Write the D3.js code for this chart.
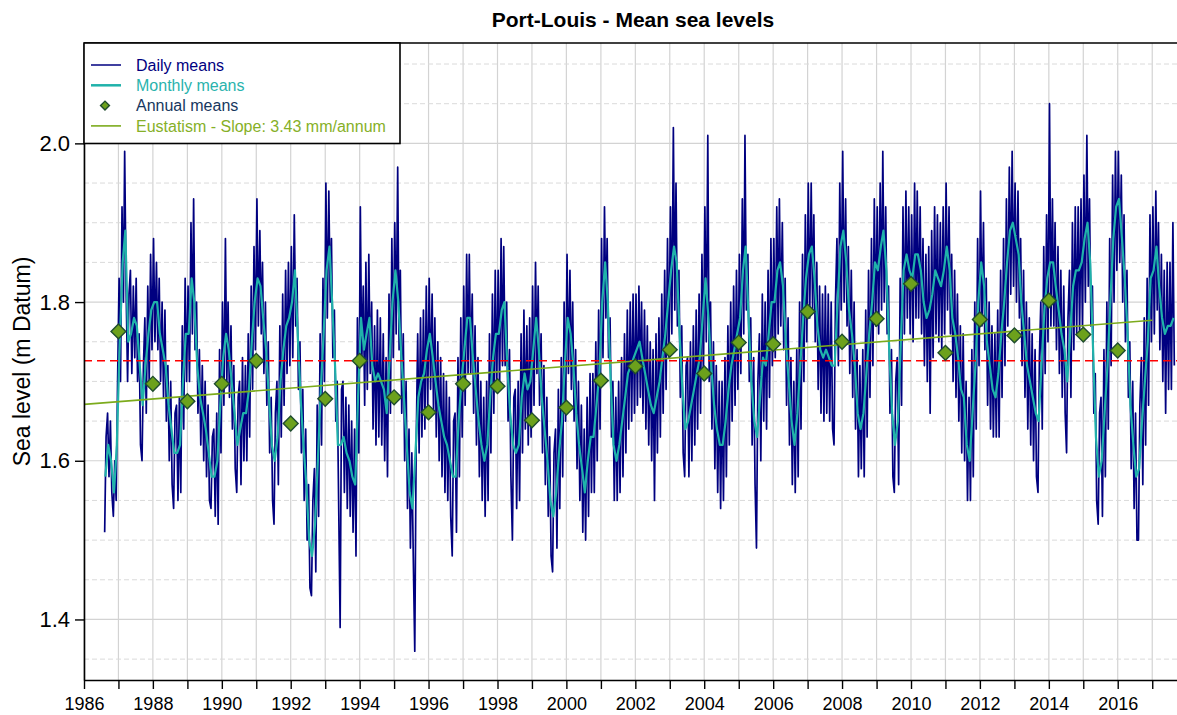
<!DOCTYPE html>
<html>
<head>
<meta charset="utf-8">
<script src="https://cdn.jsdelivr.net/npm/d3@7"></script>
<style>
body { margin: 0; background: #fff; }
svg { display: block; font-family: Arial, "Liberation Sans", sans-serif; }
</style>
</head>
<body>
<svg width="1177" height="715"></svg>
<script>
// first month of the monthly / daily series (Aug 1986)
var seriesStart = [1986, 8];

// monthly means (m), one row per year
var monthlyMeans = [
  1.58,1.62,1.60,1.56,1.62,
  1.75,1.85,1.89,1.75,1.76,1.78,1.77,1.72,1.67,1.72,1.76,1.79,
  1.80,1.80,1.76,1.74,1.72,1.67,1.64,1.61,1.61,1.62,1.70,1.76,
  1.76,1.83,1.80,1.72,1.68,1.66,1.64,1.61,1.58,1.58,1.60,1.67,
  1.73,1.76,1.74,1.70,1.66,1.62,1.64,1.66,1.66,1.69,1.75,1.80,
  1.83,1.82,1.78,1.74,1.68,1.62,1.60,1.63,1.70,1.74,1.77,1.78,
  1.80,1.84,1.76,1.68,1.62,1.57,1.50,1.48,1.52,1.60,1.69,1.76,
  1.84,1.87,1.80,1.72,1.62,1.62,1.63,1.61,1.60,1.58,1.57,1.68,
  1.78,1.74,1.76,1.78,1.72,1.70,1.71,1.70,1.69,1.66,1.73,1.80,
  1.84,1.80,1.74,1.68,1.62,1.56,1.54,1.61,1.68,1.70,1.71,1.74,
  1.76,1.73,1.70,1.67,1.65,1.63,1.62,1.60,1.58,1.58,1.65,1.70,
  1.74,1.78,1.78,1.73,1.69,1.65,1.62,1.60,1.62,1.68,1.73,1.76,
  1.76,1.79,1.80,1.72,1.66,1.62,1.61,1.62,1.68,1.71,1.69,1.70,
  1.74,1.78,1.74,1.68,1.64,1.60,1.55,1.53,1.56,1.61,1.65,1.72,
  1.78,1.76,1.72,1.66,1.62,1.59,1.56,1.60,1.63,1.63,1.67,1.71,
  1.80,1.85,1.80,1.70,1.62,1.60,1.62,1.65,1.68,1.71,1.72,1.73,
  1.74,1.75,1.73,1.71,1.69,1.67,1.66,1.68,1.70,1.73,1.76,1.80,
  1.84,1.87,1.85,1.76,1.69,1.64,1.65,1.67,1.69,1.71,1.73,1.78,
  1.83,1.78,1.72,1.67,1.64,1.62,1.62,1.65,1.69,1.72,1.74,1.76,
  1.78,1.84,1.87,1.78,1.70,1.65,1.63,1.68,1.73,1.72,1.76,1.80,
  1.80,1.84,1.85,1.82,1.75,1.70,1.65,1.62,1.66,1.72,1.78,1.83,
  1.86,1.87,1.83,1.77,1.74,1.73,1.74,1.73,1.72,1.72,1.80,1.87,
  1.89,1.85,1.79,1.76,1.72,1.66,1.64,1.66,1.71,1.76,1.80,1.85,
  1.84,1.87,1.89,1.84,1.74,1.66,1.62,1.65,1.75,1.84,1.86,1.84,
  1.83,1.86,1.86,1.84,1.80,1.78,1.79,1.81,1.84,1.83,1.82,1.84,
  1.87,1.84,1.78,1.76,1.73,1.69,1.68,1.62,1.60,1.66,1.72,1.80,
  1.85,1.82,1.75,1.72,1.69,1.68,1.71,1.76,1.80,1.85,1.89,1.90,
  1.88,1.86,1.80,1.76,1.72,1.70,1.68,1.66,1.65,1.72,1.79,1.83,
  1.85,1.85,1.82,1.79,1.76,1.74,1.70,1.76,1.82,1.84,1.84,1.85,
  1.88,1.90,1.85,1.74,1.63,1.58,1.60,1.66,1.72,1.80,1.88,1.92,
  1.93,1.88,1.83,1.76,1.67,1.62,1.58,1.59,1.65,1.70,1.75,1.83,
  1.84,1.87,1.82,1.78,1.76,1.77,1.77,1.78
];

// daily means (m), two readings per month (around the 8th and the 23rd)
var dailyMeans = [
  1.51,1.63,1.66,1.58,1.65,1.56,1.53,1.60,1.55,1.70,
  1.83,1.70,1.92,1.80,1.99,1.82,1.70,1.81,1.84,1.71,1.82,1.73,1.83,1.70,1.76,1.62,1.60,1.72,1.78,1.66,1.82,1.70,1.86,1.74,
  1.88,1.75,1.85,1.74,1.83,1.70,1.80,1.68,1.79,1.65,1.72,1.60,1.70,1.57,1.54,1.66,1.67,1.55,1.68,1.56,1.77,1.64,1.83,1.70,
  1.82,1.70,1.90,1.76,1.93,1.74,1.80,1.66,1.74,1.62,1.72,1.60,1.70,1.58,1.67,1.55,1.54,1.63,1.64,1.53,1.66,1.52,1.74,1.61,
  1.80,1.67,1.88,1.70,1.80,1.68,1.77,1.64,1.72,1.59,1.56,1.68,1.70,1.57,1.73,1.60,1.72,1.60,1.76,1.63,1.82,1.69,1.87,1.74,
  1.93,1.77,1.89,1.76,1.85,1.71,1.80,1.67,1.75,1.61,1.68,1.55,1.52,1.66,1.70,1.57,1.77,1.63,1.81,1.67,1.84,1.71,1.85,1.72,
  1.87,1.73,1.91,1.77,1.83,1.69,1.75,1.61,1.69,1.55,1.64,1.50,1.57,1.44,1.43,1.55,1.59,1.46,1.67,1.53,1.76,1.62,1.83,1.70,
  1.95,1.78,1.94,1.80,1.88,1.73,1.79,1.65,1.70,1.55,1.39,1.69,1.70,1.56,1.68,1.54,1.67,1.53,1.65,1.51,1.64,1.48,1.78,1.61,
  1.92,1.72,1.82,1.67,1.85,1.69,1.86,1.71,1.80,1.64,1.77,1.62,1.79,1.63,1.78,1.62,1.76,1.60,1.73,1.58,1.81,1.66,1.88,1.73,
  1.90,1.76,1.97,1.74,1.84,1.66,1.76,1.60,1.70,1.54,1.64,1.49,1.61,1.48,1.36,1.62,1.76,1.61,1.78,1.63,1.79,1.64,1.82,1.67,
  1.83,1.69,1.81,1.66,1.78,1.63,1.75,1.60,1.73,1.58,1.71,1.56,1.70,1.55,1.68,1.53,1.48,1.65,1.66,1.51,1.73,1.58,1.78,1.63,
  1.82,1.67,1.86,1.71,1.86,1.71,1.81,1.66,1.77,1.62,1.73,1.58,1.70,1.55,1.68,1.53,1.70,1.55,1.76,1.61,1.81,1.66,1.84,1.69,
  1.84,1.69,1.88,1.72,1.87,1.72,1.80,1.65,1.74,1.58,1.50,1.68,1.69,1.54,1.70,1.55,1.76,1.61,1.79,1.64,1.77,1.62,1.78,1.63,
  1.82,1.67,1.85,1.71,1.82,1.67,1.76,1.61,1.72,1.57,1.68,1.53,1.63,1.48,1.46,1.61,1.64,1.49,1.69,1.54,1.73,1.58,1.80,1.65,
  1.86,1.71,1.84,1.69,1.80,1.65,1.74,1.59,1.70,1.55,1.67,1.51,1.64,1.50,1.68,1.53,1.71,1.56,1.71,1.56,1.75,1.60,1.79,1.64,
  1.88,1.73,1.92,1.78,1.88,1.73,1.78,1.63,1.70,1.55,1.68,1.55,1.70,1.56,1.73,1.58,1.76,1.61,1.79,1.64,1.80,1.65,1.81,1.66,
  1.81,1.67,1.82,1.68,1.80,1.66,1.79,1.64,1.77,1.62,1.75,1.60,1.74,1.55,1.76,1.61,1.78,1.63,1.81,1.66,1.84,1.69,1.88,1.73,
  1.92,1.76,2.02,1.79,1.95,1.77,1.84,1.68,1.77,1.61,1.58,1.72,1.73,1.58,1.75,1.60,1.77,1.62,1.79,1.64,1.81,1.66,1.86,1.71,
  1.92,1.75,2.01,1.70,1.80,1.64,1.75,1.59,1.72,1.56,1.70,1.54,1.70,1.55,1.73,1.58,1.77,1.62,1.80,1.65,1.82,1.67,1.84,1.69,
  1.86,1.71,1.93,1.76,2.01,1.79,1.86,1.70,1.78,1.62,1.73,1.57,1.49,1.70,1.76,1.60,1.81,1.65,1.80,1.64,1.84,1.68,1.88,1.72,
  1.88,1.73,1.92,1.76,1.93,1.77,1.90,1.74,1.83,1.67,1.78,1.62,1.73,1.57,1.70,1.56,1.74,1.58,1.80,1.64,1.86,1.70,1.91,1.75,
  1.95,1.78,1.95,1.79,1.91,1.75,1.85,1.69,1.82,1.66,1.81,1.65,1.82,1.66,1.81,1.65,1.80,1.64,1.62,1.80,1.88,1.72,1.95,1.79,
  1.99,1.80,1.93,1.77,1.87,1.71,1.84,1.68,1.80,1.64,1.74,1.58,1.72,1.59,1.74,1.58,1.79,1.63,1.84,1.68,1.88,1.72,1.93,1.77,
  1.92,1.76,1.95,1.79,1.99,1.80,1.92,1.76,1.82,1.66,1.74,1.58,1.56,1.70,1.73,1.57,1.83,1.67,1.92,1.76,1.94,1.78,1.92,1.76,
  1.91,1.75,1.95,1.78,1.94,1.78,1.92,1.76,1.88,1.72,1.86,1.70,1.87,1.66,1.89,1.73,1.92,1.76,1.91,1.75,1.90,1.74,1.92,1.76,
  1.95,1.79,1.92,1.76,1.86,1.70,1.84,1.68,1.81,1.65,1.77,1.61,1.76,1.60,1.70,1.55,1.68,1.55,1.74,1.58,1.80,1.64,1.88,1.72,
  1.94,1.77,1.90,1.74,1.83,1.67,1.80,1.64,1.77,1.63,1.76,1.63,1.79,1.63,1.84,1.68,1.88,1.72,1.93,1.77,1.97,1.81,1.99,1.82,
  1.95,1.80,1.94,1.78,1.88,1.72,1.84,1.68,1.80,1.64,1.78,1.62,1.76,1.60,1.74,1.58,1.56,1.73,1.80,1.64,1.87,1.71,1.91,1.75,
  2.05,1.77,1.93,1.77,1.90,1.74,1.87,1.71,1.84,1.68,1.82,1.66,1.61,1.78,1.84,1.68,1.90,1.74,1.92,1.76,1.92,1.76,1.93,1.77,
  1.96,1.80,2.01,1.82,1.93,1.77,1.82,1.66,1.71,1.55,1.52,1.66,1.68,1.53,1.74,1.58,1.80,1.64,1.88,1.72,1.96,1.80,1.99,1.84,
  1.99,1.85,1.96,1.80,1.91,1.75,1.84,1.68,1.75,1.59,1.70,1.54,1.66,1.50,1.50,1.67,1.73,1.57,1.78,1.62,1.83,1.67,1.91,1.75,
  1.92,1.76,1.94,1.79,1.90,1.74,1.86,1.70,1.84,1.66,1.85,1.69,1.85,1.69,1.90,1.72
];

// annual means, plotted at 1 January of each year
var annualYears = [1987,1988,1989,1990,1991,1992,1993,1994,1995,1996,1997,1998,1999,2000,2001,
                   2002,2003,2004,2005,2006,2007,2008,2009,2010,2011,2012,2013,2014,2015,2016];
var annualMeans = [1.763,1.697,1.675,1.697,1.726,1.647,1.678,1.726,1.680,1.661,1.697,1.694,1.651,1.667,1.701,
                   1.719,1.740,1.710,1.749,1.747,1.788,1.750,1.779,1.823,1.736,1.778,1.758,1.802,1.759,1.739];

// eustatism trend (3.43 mm/annum) end points and mean sea level
var trendYears = [1986, 2017];
var trendLevels = [1.671, 1.777];
var meanLevel = 1.726;

// axis ticks
var xTickYears = d3.range(1986, 2018);
var yTicks = [1.4, 1.6, 1.8, 2.0];
var yMinorTicks = [1.35, 1.45, 1.5, 1.55, 1.65, 1.7, 1.75, 1.85, 1.9, 1.95, 2.05, 2.1];

var legendItems = ["Daily means", "Monthly means", "Annual means", "Eustatism - Slope: 3.43 mm/annum"];

var svg = d3.select("svg"),
    plotL = 84, plotR = 1178, plotT = 43, plotB = 680;

var x = d3.scaleUtc()
    .domain([new Date(Date.UTC(1986, 0, 1)), new Date(Date.UTC(2017, 9, 1))])
    .range([plotL, plotR]);
var y = d3.scaleLinear().domain([1.3237, 2.1265]).range([plotB, plotT]);

function monthDate(i, day) {
  return new Date(Date.UTC(seriesStart[0], seriesStart[1] - 1 + i, day));
}
var monthly = monthlyMeans.map(function(v, i) { return {date: monthDate(i, 15), value: v}; });
var daily = dailyMeans.map(function(v, i) {
  return {date: monthDate(Math.floor(i / 2), i % 2 ? 23 : 8), value: v};
});
var annual = annualYears.map(function(yr, i) { return {date: new Date(Date.UTC(yr, 0, 1)), value: annualMeans[i]}; });
var trend = trendYears.map(function(yr, i) { return {date: new Date(Date.UTC(yr, 0, 1)), value: trendLevels[i]}; });

svg.append("defs").append("clipPath").attr("id", "plot")
  .append("rect").attr("x", plotL).attr("y", plotT).attr("width", plotR - plotL).attr("height", plotB - plotT);

// grid
var grid = svg.append("g");
grid.selectAll(".vg").data(xTickYears).enter().append("line")
    .attr("x1", function(d) { return x(new Date(Date.UTC(d, 0, 1))); })
    .attr("x2", function(d) { return x(new Date(Date.UTC(d, 0, 1))); })
    .attr("y1", plotT).attr("y2", plotB)
    .attr("stroke", "#d3d3d3").attr("stroke-width", 1.2);
grid.selectAll(".hm").data(yMinorTicks).enter().append("line")
    .attr("x1", plotL).attr("x2", plotR)
    .attr("y1", function(d) { return y(d); }).attr("y2", function(d) { return y(d); })
    .attr("stroke", "#dadada").attr("stroke-width", 1).attr("stroke-dasharray", "5,3");
grid.selectAll(".hg").data(yTicks).enter().append("line")
    .attr("x1", plotL).attr("x2", plotR)
    .attr("y1", function(d) { return y(d); }).attr("y2", function(d) { return y(d); })
    .attr("stroke", "#d3d3d3").attr("stroke-width", 1.2);

var plot = svg.append("g").attr("clip-path", "url(#plot)");

var line = d3.line().x(function(d) { return x(d.date); }).y(function(d) { return y(d.value); });

plot.append("path").datum(daily)
    .attr("fill", "none").attr("stroke", "#000080").attr("stroke-width", 1.7)
    .attr("stroke-linejoin", "round").attr("d", line);
plot.append("path").datum(monthly)
    .attr("fill", "none").attr("stroke", "#20b2aa").attr("stroke-width", 2.2)
    .attr("stroke-linejoin", "round").attr("d", line);

plot.append("line")
    .attr("x1", plotL).attr("x2", plotR).attr("y1", y(meanLevel)).attr("y2", y(meanLevel))
    .attr("stroke", "#ff0000").attr("stroke-width", 1.6).attr("stroke-dasharray", "8,5");
plot.append("path").datum(trend)
    .attr("fill", "none").attr("stroke", "#7cab1c").attr("stroke-width", 1.6).attr("d", line);

var diamond = d3.symbol().type(d3.symbolSquare).size(110);
plot.selectAll(".annual").data(annual).enter().append("path")
    .attr("transform", function(d) { return "translate(" + x(d.date) + "," + y(d.value) + ") rotate(45)"; })
    .attr("d", diamond)
    .attr("fill", "#6ca11c").attr("stroke", "#1f4d2e").attr("stroke-width", 1.4);

// axes
var yAxis = svg.append("g").attr("transform", "translate(" + plotL + ",0)")
    .call(d3.axisLeft(y).tickValues(yTicks).tickFormat(d3.format(".1f")).tickSize(9).tickSizeOuter(0).tickPadding(5));
var xAxis = svg.append("g").attr("transform", "translate(0," + plotB + ")")
    .call(d3.axisBottom(x)
      .tickValues(xTickYears.map(function(d) { return new Date(Date.UTC(d, 0, 1)); }))
      .tickFormat(function(d) { var yr = d.getUTCFullYear(); return yr % 2 === 0 ? yr : ""; })
      .tickSize(9).tickSizeOuter(0).tickPadding(8));
[yAxis, xAxis].forEach(function(a) {
  a.select(".domain").attr("stroke", "#000").attr("stroke-width", 1.6);
  a.selectAll(".tick line").attr("stroke", "#000").attr("stroke-width", 1.4);
  a.selectAll("text").attr("fill", "#000").style("font-family", "Arial, 'Liberation Sans', sans-serif");
});
yAxis.selectAll("text").style("font-size", "22px");
xAxis.selectAll("text").style("font-size", "18px");

svg.append("line").attr("x1", plotL).attr("x2", plotR).attr("y1", plotT).attr("y2", plotT)
    .attr("stroke", "#000").attr("stroke-width", 1.6);

svg.append("text")
    .attr("transform", "translate(30," + ((plotT + plotB) / 2) + ") rotate(-90)")
    .attr("text-anchor", "middle")
    .style("font-size", "23px")
    .text("Sea level (m Datum)");

svg.append("text")
    .attr("x", 633).attr("y", 27)
    .attr("text-anchor", "middle")
    .style("font-size", "21px").style("font-weight", "bold")
    .text("Port-Louis - Mean sea levels");

// legend
var lg = svg.append("g");
lg.append("rect").attr("x", plotL).attr("y", plotT).attr("width", 316).attr("height", 100.5)
    .attr("fill", "#fff").attr("stroke", "#000").attr("stroke-width", 1.6);
var legendColors = ["#000080", "#2ab3ad", "#17375e", "#86b027"];
var rows = lg.selectAll(".row").data(legendItems).enter().append("g")
    .attr("transform", function(d, i) { return "translate(0," + (65 + i * 20.3) + ")"; });
rows.append("text").attr("x", 136).attr("dy", "0.35em")
    .style("font-size", "16px").attr("fill", function(d, i) { return legendColors[i]; })
    .text(function(d) { return d; });
rows.filter(function(d, i) { return i !== 2; }).append("line")
    .attr("x1", 91).attr("x2", 121)
    .attr("stroke", function(d, i) { return ["#000080", "#20b2aa", "#7cab1c"][i]; })
    .attr("stroke-width", function(d, i) { return [1.5, 2.5, 1.6][i]; });
rows.filter(function(d, i) { return i === 2; }).append("path")
    .attr("transform", "translate(105,0) rotate(45)")
    .attr("d", d3.symbol().type(d3.symbolSquare).size(40))
    .attr("fill", "#6ca11c").attr("stroke", "#1f4d2e").attr("stroke-width", 1.4);
</script>
</body>
</html>
